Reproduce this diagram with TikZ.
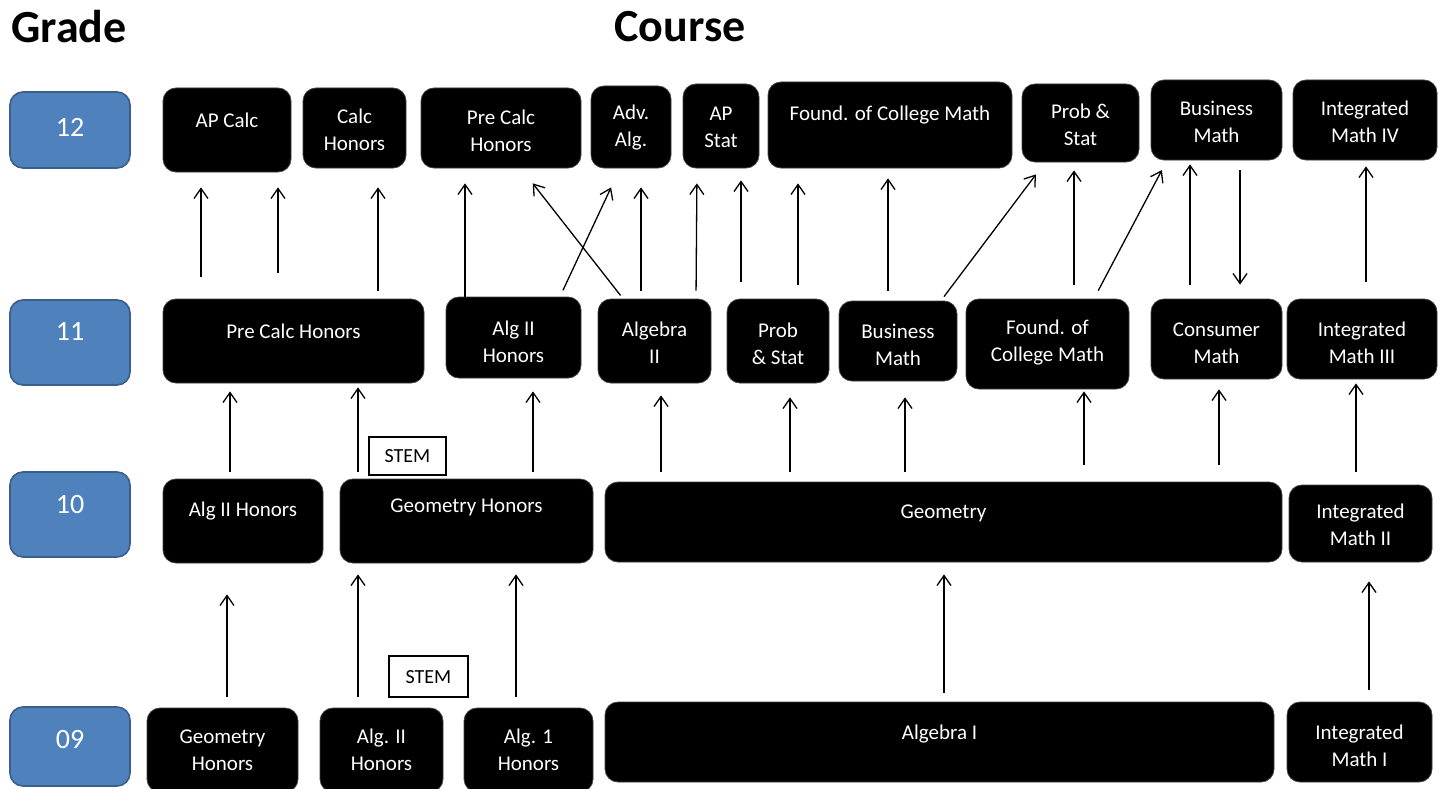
\documentclass[tikz,border=0pt]{standalone}
\usepackage{fontspec}
\setmainfont{Carlito}
\usetikzlibrary{arrows.meta,fit,calc}
\definecolor{gradeblue}{HTML}{4F81BD}
\definecolor{gradeedge}{HTML}{3A5F8B}
\tikzset{
 cbox/.style={fill=black, draw=black!75, rounded corners=13pt, inner sep=0pt, line width=0.8pt},
 gbox/.style={fill=gradeblue, draw=gradeedge, rounded corners=13pt, inner sep=0pt, line width=1.6pt},
 stembox/.style={fill=white, draw=black, line width=1.3pt, inner sep=0pt},
 ctext/.style={text=white, align=center, font=\fontsize{21}{27}\selectfont, inner sep=0pt},
 stext/.style={text=black, font=\fontsize{20}{22}\selectfont, inner sep=0pt},
 gtext/.style={text=white, font=\fontsize{28}{30}\selectfont, inner sep=0pt},
 ttext/.style={text=black, font=\fontsize{46}{50}\selectfont\bfseries, inner sep=0pt},
 arr/.style={-{Straight Barb[length=10pt,width=14pt]}, line width=1.3pt},
}
\newcommand\cb[7]{\node[cbox, fit={(#2,#3) (#4,#5)}] (#1) {};
  \node[ctext] (#1t) at ({(#2+#4)/2},#6) {#7};}
\begin{document}
\begin{tikzpicture}[x=1pt,y=-1pt]
\useasboundingbox (0,0) rectangle (1440,789);
\fill[white] (0,0) rectangle (1440,789);
\clip (0,0) rectangle (1440,789);

% titles
\node[ttext] (tgrade) at (69,27) {Grade};
\node[ttext] (tcourse) at (680,27) {Course};

% grade boxes
\node[gbox, fit={(10,92) (130,168)}] (g12) {};
\node[gtext] (g12t) at (70,127) {12};
\node[gbox, fit={(10,300) (130,385)}] (g11) {};
\node[gtext] (g11t) at (70,331) {11};
\node[gbox, fit={(10,472) (130,557)}] (g10) {};
\node[gtext] (g10t) at (70,505) {10};
\node[gbox, fit={(10,707) (130,786)}] (g09) {};
\node[gtext] (g09t) at (70,740) {09};

% grade 12
\cb{a12}{163}{88}{291}{172}{120}{AP Calc}
\cb{b12}{303}{88}{406}{168}{130}{Calc\\Honors}
\cb{c12}{421}{88}{581}{168}{131}{Pre Calc\\Honors}
\cb{d12}{591}{86}{671}{168}{128}{Adv.\\Alg.}
\cb{e12}{683}{84}{759}{168}{127}{AP\\Stat}
\cb{f12}{768}{82}{1012}{168}{115}{Found. of College Math}
\cb{h12}{1022}{84}{1139}{162}{125}{Prob \&\\Stat}
\cb{i12}{1151}{80}{1282}{160}{122}{Business\\Math}
\cb{j12}{1293}{80}{1437}{160}{122}{Integrated\\Math IV}

% grade 11
\cb{a11}{163}{299}{424}{383}{331}{Pre Calc Honors}
\cb{b11}{446}{297}{581}{378}{342}{Alg II\\Honors}
\cb{c11}{598}{299}{711}{383}{343}{Algebra\\II}
\cb{d11}{727}{299}{829}{383}{344}{Prob\\\& Stat}
\cb{e11}{839}{301}{957}{381}{345}{Business\\Math}
\cb{f11}{966}{299}{1129}{389}{343}{Found. of\\College Math}
\cb{h11}{1151}{299}{1282}{379}{343}{Consumer\\Math}
\cb{i11}{1287}{299}{1437}{379}{343}{Integrated\\Math III}

% grade 10
\cb{a10}{163}{479}{323}{563}{511}{Alg II Honors}
\cb{b10}{340}{479}{593}{563}{507}{Geometry Honors}
\cb{c10}{605}{482}{1282}{562}{513}{Geometry}
\cb{d10}{1289}{485}{1432}{562}{525}{Integrated\\Math II}
\node[stembox, fit={(369,437) (446,475)}] (s10) {};
\node[stext] (s10t) at (407.5,456) {STEM};

% grade 09
\cb{a09}{147}{708}{298}{792}{750}{Geometry\\Honors}
\cb{b09}{320}{708}{443}{792}{750}{Alg. II\\Honors}
\cb{c09}{464}{708}{593}{792}{750}{Alg. 1\\Honors}
\cb{d09}{605}{702}{1274}{782}{734}{Algebra I}
\cb{e09}{1287}{702}{1432}{782}{746}{Integrated\\Math I}
\node[stembox, fit={(389,656) (468,697)}] (s09) {};
\node[stext] (s09t) at (428.5,677) {STEM};

% arrows 11 -> 12
\draw[arr, shorten <=22pt, shorten >=15pt] (a11.north -| 201,0) -- (a12.south -| 201,0);
\draw[arr, shorten <=26pt, shorten >=15pt] (a11.north -| 278,0) -- (a12.south -| 278,0);
\draw[arr, shorten <=8pt, shorten >=19pt] (a11.north -| 378,0) -- (b12.south -| 378,0);
\draw[arr, shorten <=0pt, shorten >=15pt] (b11.north -| 465,0) -- (c12.south -| 465,0);
\draw[arr, shorten <=4pt, shorten >=19pt] (c11.north -| 623,0) -- (c12.south -| 521,0);
\draw[arr, shorten <=7pt, shorten >=21pt] (b11.north -| 560,0) -- (d12.south -| 620,0);
\draw[arr, shorten <=8pt, shorten >=19pt] (c11.north -| 641,0) -- (d12.south -| 641,0);
\draw[arr, shorten <=8pt, shorten >=15pt] (c11.north -| 696,0) -- (e12.south -| 697,0);
\draw[arr, shorten <=17pt, shorten >=12pt] (d11.north -| 741,0) -- (e12.south -| 741,0);
\draw[arr, shorten <=14pt, shorten >=15pt] (d11.north -| 798,0) -- (f12.south -| 798,0);
\draw[arr, shorten <=10pt, shorten >=10pt] (e11.north -| 888,0) -- (f12.south -| 888,0);
\draw[arr, shorten <=5pt, shorten >=15pt] (e11.north -| 941,0) -- (h12.south -| 1045,0);
\draw[arr, shorten <=14pt, shorten >=8pt] (f11.north -| 1074,0) -- (h12.south -| 1074,0);
\draw[arr, shorten <=9pt, shorten >=11pt] (f11.north -| 1094,0) -- (i12.south -| 1167,0);
\draw[arr, shorten <=14pt, shorten >=4pt] (h11.north -| 1190,0) -- (i12.south -| 1190,0);
\draw[arr, shorten <=10pt, shorten >=14pt] (i12.south -| 1240,0) -- (h11.north -| 1240,0);
\draw[arr, shorten <=17pt, shorten >=6pt] (i11.north -| 1366,0) -- (j12.south -| 1366,0);

% arrows 10 -> 11
\draw[arr, shorten <=7pt, shorten >=8pt] (a10.north -| 230,0) -- (a11.south -| 230,0);
\draw[arr, shorten <=7pt, shorten >=4pt] (b10.north -| 358,0) -- (a11.south -| 358,0);
\draw[arr, shorten <=7pt, shorten >=13pt] (b10.north -| 533,0) -- (b11.south -| 533,0);
\draw[arr, shorten <=10pt, shorten >=12pt] (c10.north -| 661,0) -- (c11.south -| 661,0);
\draw[arr, shorten <=10pt, shorten >=14pt] (c10.north -| 790,0) -- (d11.south -| 790,0);
\draw[arr, shorten <=10pt, shorten >=16pt] (c10.north -| 905,0) -- (e11.south -| 905,0);
\draw[arr, shorten <=17pt, shorten >=2pt] (c10.north -| 1084,0) -- (f11.south -| 1084,0);
\draw[arr, shorten <=17pt, shorten >=10pt] (c10.north -| 1219,0) -- (h11.south -| 1219,0);
\draw[arr, shorten <=13pt, shorten >=4pt] (d10.north -| 1356,0) -- (i11.south -| 1356,0);

% arrows 09 -> 10
\draw[arr, shorten <=11pt, shorten >=31pt] (a09.north -| 227,0) -- (a10.south -| 227,0);
\draw[arr, shorten <=11pt, shorten >=11pt] (b09.north -| 358,0) -- (b10.south -| 358,0);
\draw[arr, shorten <=11pt, shorten >=11pt] (c09.north -| 516,0) -- (b10.south -| 516,0);
\draw[arr, shorten <=9pt, shorten >=12pt] (d09.north -| 944,0) -- (c10.south -| 944,0);
\draw[arr, shorten <=12pt, shorten >=19pt] (e09.north -| 1369,0) -- (d10.south -| 1369,0);
\end{tikzpicture}
\end{document}
